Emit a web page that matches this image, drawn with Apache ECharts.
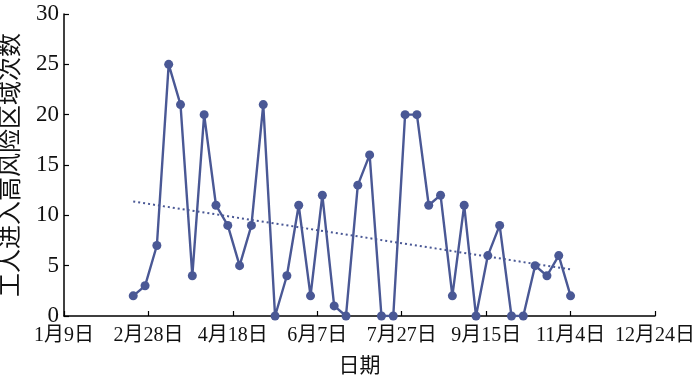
<!DOCTYPE html>
<html>
<head>
<meta charset="utf-8">
<script src="https://cdn.jsdelivr.net/npm/echarts@6/dist/echarts.min.js"></script>
<style>
html,body{margin:0;padding:0;background:#fff;}
#chart{width:700px;height:380px;}
</style>
</head>
<body>
<div id="chart"></div>
<script>
// Days since 1月9日 (weekly records)
var dayOffsets = [41,48,55,62,69,76,83,90,97,104,111,118,125,132,139,146,153,160,167,174,181,188,195,202,209,216,223,230,237,244,251,258,265,272,279,286,293,300];
// 工人进入高风险区域次数
var counts = [2,3,7,25,21,4,20,11,9,5,9,21,0,4,11,2,12,1,0,13,16,0,0,20,20,11,12,2,11,0,6,9,0,0,5,4,6,2];
// x-axis tick labels (every 50 days from 1月9日)
var xTickLabels = ['1月9日','2月28日','4月18日','6月7日','7月27日','9月15日','11月4日','12月24日'];
var yTicks = [0,5,10,15,20,25,30];

var mainData = dayOffsets.map(function(d,i){return [d,counts[i]];});

// least-squares linear trend
var n = dayOffsets.length, sx=0, sy=0, sxx=0, sxy=0;
for (var i=0;i<n;i++){sx+=dayOffsets[i];sy+=counts[i];sxx+=dayOffsets[i]*dayOffsets[i];sxy+=dayOffsets[i]*counts[i];}
var slope = (n*sxy - sx*sy)/(n*sxx - sx*sx);
var intercept = (sy - slope*sx)/n;
var x0 = dayOffsets[0], x1 = dayOffsets[n-1];
var trendData = [[x0, intercept+slope*x0],[x1, intercept+slope*x1]];

var lineColor = '#4a5895';
var textColor = '#111';
var fontFam = '"Liberation Serif","Noto Sans CJK SC",serif';

var chart = echarts.init(document.getElementById('chart'), null, {renderer:'canvas'});
chart.setOption({
  animation:false,
  backgroundColor:'#fff',
  grid:{left:64,right:45,top:14,bottom:64,containLabel:false,outerBoundsMode:'none'},
  xAxis:{
    type:'value', min:0, max:350, interval:50,
    name:'日期', nameLocation:'middle', nameGap:40,
    nameTextStyle:{fontFamily:fontFam,fontSize:21,color:textColor},
    axisLine:{show:true,lineStyle:{color:'#000',width:1.5}},
    axisTick:{show:true,inside:true,length:5,lineStyle:{color:'#000',width:1.2}},
    axisLabel:{margin:10,fontFamily:fontFam,fontSize:20,color:textColor,
      formatter:function(v){return xTickLabels[Math.round(v/50)];}},
    splitLine:{show:false}
  },
  yAxis:{
    type:'value', min:0, max:30, interval:5,
    name:'工人进入高风险区域次数', nameLocation:'middle', nameGap:40,
    nameTextStyle:{fontFamily:fontFam,fontSize:24,color:textColor},
    axisLine:{show:true,lineStyle:{color:'#000',width:1.5}},
    axisTick:{show:true,inside:true,length:5,lineStyle:{color:'#000',width:1.2}},
    axisLabel:{margin:5,fontFamily:fontFam,fontSize:23,color:textColor,
      formatter:function(v){return yTicks.indexOf(v)>=0?String(v):'';}},
    splitLine:{show:false}
  },
  series:[
    {type:'line',data:mainData,symbol:'circle',symbolSize:9,
     lineStyle:{color:lineColor,width:2.4},itemStyle:{color:lineColor},z:3},
    {type:'line',data:trendData,symbol:'none',
     lineStyle:{color:lineColor,width:2,type:[2,3]},z:2}
  ]
});
</script>
</body>
</html>
